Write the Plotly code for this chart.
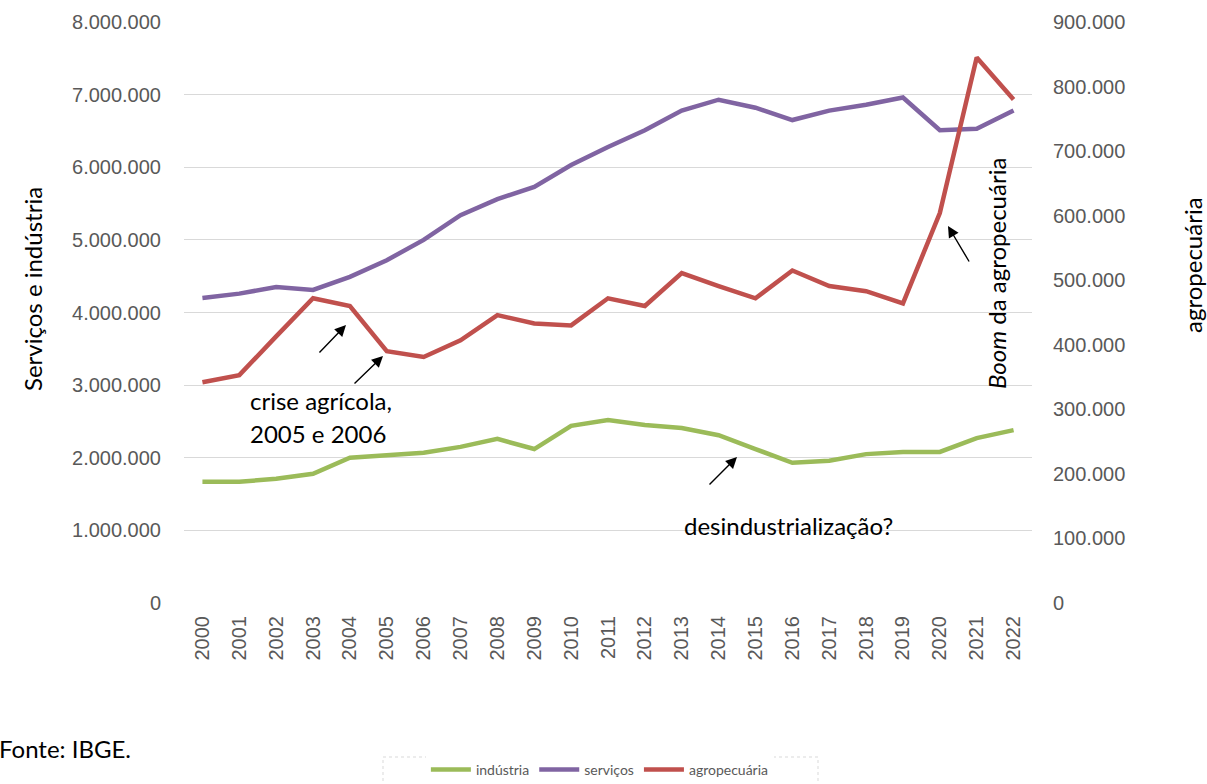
import plotly.graph_objects as go

years = [str(y) for y in range(2000, 2023)]
industria = [1.67e6, 1.67e6, 1.71e6, 1.78e6, 2.00e6, 2.04e6, 2.07e6, 2.15e6, 2.26e6, 2.12e6,
             2.44e6, 2.52e6, 2.45e6, 2.41e6, 2.31e6, 2.12e6, 1.93e6, 1.96e6, 2.05e6, 2.08e6,
             2.08e6, 2.27e6, 2.38e6]
servicos = [4.20e6, 4.26e6, 4.35e6, 4.31e6, 4.49e6, 4.72e6, 5.00e6, 5.34e6, 5.56e6, 5.73e6,
            6.03e6, 6.28e6, 6.51e6, 6.78e6, 6.93e6, 6.82e6, 6.65e6, 6.78e6, 6.86e6, 6.96e6,
            6.51e6, 6.53e6, 6.78e6]
agro = [342e3, 353e3, 413e3, 472e3, 460e3, 390e3, 381e3, 407e3, 446e3, 433e3,
        430e3, 472e3, 460e3, 511e3, 491e3, 472e3, 515e3, 491e3, 483e3, 464e3,
        604e3, 845e3, 780e3]

left_ticks = list(range(0, 8000001, 1000000))
right_ticks = list(range(0, 900001, 100000))


def fmt(v):
    return "0" if v == 0 else f"{v:,}".replace(",", ".")


W, H = 1207, 784
L, R, T, B = 184, 175, 22, 181
PW, PH = W - L - R, H - T - B


def px(x):
    return (x - L) / PW


def py(y):
    return (H - B - y) / PH


tick_font = dict(family="Liberation Sans", size=20, color="#595959")
txt_font = dict(family="Lato", size=24, color="black")

fig = go.Figure()
fig.add_trace(go.Scatter(x=years, y=industria, name="indústria", mode="lines",
                         line=dict(color="#9BBB59", width=4.5)))
fig.add_trace(go.Scatter(x=years, y=servicos, name="serviços", mode="lines",
                         line=dict(color="#8064A2", width=4.5)))
fig.add_trace(go.Scatter(x=years, y=agro, name="agropecuária", mode="lines", yaxis="y2",
                         line=dict(color="#C0504D", width=4.5)))

annotations = [
    dict(x=px(32), y=py(289), xref="paper", yref="paper", text="Serviços e indústria",
         textangle=-90, showarrow=False, font=txt_font, xanchor="center", yanchor="middle"),
    dict(x=px(1192), y=py(265), xref="paper", yref="paper", text="agropecuária",
         textangle=-90, showarrow=False, font=txt_font, xanchor="center", yanchor="middle"),
    dict(x=px(-3), y=py(748), xref="paper", yref="paper", text="Fonte: IBGE.",
         showarrow=False, font=txt_font, xanchor="left", yanchor="middle"),
    dict(x=px(248), y=py(400), xref="paper", yref="paper", text="crise agrícola,",
         showarrow=False, font=txt_font, xanchor="left", yanchor="middle"),
    dict(x=px(248), y=py(433), xref="paper", yref="paper", text="2005 e 2006",
         showarrow=False, font=txt_font, xanchor="left", yanchor="middle"),
    dict(x=px(788), y=py(525), xref="paper", yref="paper", text="desindustrialização?",
         showarrow=False, font=txt_font, xanchor="center", yanchor="middle"),
    dict(x=px(996), y=py(274), xref="paper", yref="paper", text="<i>Boom</i> da agropecuária",
         textangle=-90, showarrow=False, font=txt_font, xanchor="center", yanchor="middle"),
]
arrows = [((318, 354), (346, 325)), ((353, 385), (383, 356)),
          ((708, 486), (737, 457)), ((970, 263), (948, 226))]
for (tx, ty), (hx, hy) in arrows:
    annotations.append(dict(x=px(hx), y=py(hy), xref="paper", yref="paper", text="",
                            showarrow=True, ax=tx - hx, ay=ty - hy, arrowhead=2,
                            arrowsize=1.6, arrowwidth=1.4, arrowcolor="black"))

fig.update_layout(
    width=W, height=H,
    margin=dict(l=L, r=R, t=T, b=B),
    paper_bgcolor="white", plot_bgcolor="white",
    showlegend=True,
    legend=dict(orientation="h", xref="container", yref="container", x=0.497, y=0.018,
                xanchor="center", yanchor="middle",
                font=dict(family="Lato", size=14, color="#595959"),
                itemwidth=40, tracegroupgap=0),
    xaxis=dict(type="category", range=[-0.5, 22.5], tickangle=-90, tickfont=tick_font,
               showgrid=False, showline=False, ticks="", zeroline=False,
               ticklabelstandoff=8),
    yaxis=dict(range=[0, 8000000], tickvals=left_ticks, ticktext=[fmt(v) for v in left_ticks],
               tickfont=tick_font, gridcolor="#D9D9D9", gridwidth=1, zeroline=False,
               showline=False, ticks="", ticklabelstandoff=22),
    yaxis2=dict(range=[0, 900000], tickvals=right_ticks, ticktext=[fmt(v) for v in right_ticks],
                tickfont=tick_font, overlaying="y", side="right", showgrid=False,
                zeroline=False, showline=False, ticks="", ticklabelstandoff=20),
    annotations=annotations,
    shapes=[dict(type="rect", xref="paper", yref="paper", x0=px(383), x1=px(818),
                 y0=py(790), y1=py(757), line=dict(color="#D9D9D9", width=1, dash="dot"))],
)

fig.write_html("out.html")
